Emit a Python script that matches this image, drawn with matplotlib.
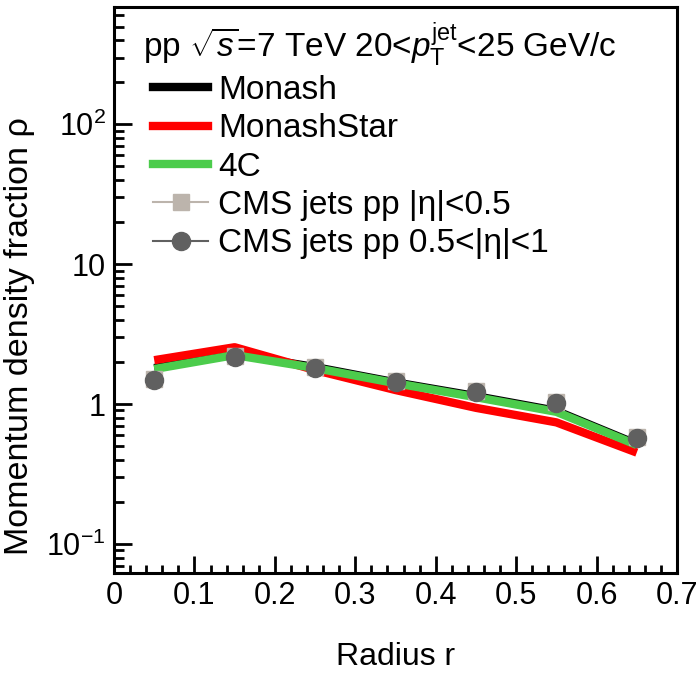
import matplotlib
matplotlib.use("Agg")
import matplotlib.pyplot as plt
from matplotlib.lines import Line2D
from matplotlib.ticker import FixedLocator, FixedFormatter, MultipleLocator, LogLocator, NullFormatter

plt.rcParams['font.family'] = ['Liberation Sans', 'DejaVu Sans']
plt.rcParams['mathtext.fontset'] = 'custom'
plt.rcParams['mathtext.rm'] = 'Liberation Sans'
plt.rcParams['mathtext.it'] = 'Liberation Sans:italic'

radius = [0.05, 0.15, 0.25, 0.35, 0.45, 0.55, 0.65]
monash = [1.81, 2.27, 1.84, 1.43, 1.14, 0.895, 0.518]
monash_star = [2.06, 2.55, 1.75, 1.26, 0.94, 0.74, 0.45]
c4 = [1.78, 2.24, 1.81, 1.41, 1.12, 0.88, 0.51]
cms_central = [1.50, 2.20, 1.83, 1.46, 1.24, 1.03, 0.58]
cms_central_err = [0.04, 0.05, 0.04, 0.03, 0.03, 0.03, 0.03]
cms_fwd = [1.48, 2.17, 1.81, 1.44, 1.22, 1.02, 0.57]
cms_fwd_err = [0.04, 0.05, 0.04, 0.03, 0.03, 0.03, 0.06]

W, H = 697, 675
fig = plt.figure(figsize=(W / 100, H / 100), dpi=100)
left, right, top, bottom = 114, 677, 7, 573
ax = fig.add_axes([left / W, 1 - bottom / H, (right - left) / W, (bottom - top) / H])

band = 6.0
ax.plot(radius, monash, color='black', lw=band, solid_capstyle='butt', zorder=2)
ax.plot(radius, monash_star, color='#ff0000', lw=band, solid_capstyle='butt', zorder=3)
ax.plot(radius, c4, color='#4ccc4c', lw=band, solid_capstyle='butt', zorder=4)
ax.errorbar(radius, cms_central, yerr=cms_central_err, color='#bcb4ac', marker='s', ms=12,
            lw=1.5, ls='none', capsize=0, zorder=5)
ax.errorbar(radius, cms_fwd, yerr=cms_fwd_err, color='#606060', marker='o', ms=13,
            lw=1.5, ls='none', capsize=4, capthick=1.5, zorder=6)

ax.set_yscale('log')
ax.set_xlim(0, 0.7)
ax.set_ylim(0.062, 690)

ax.xaxis.set_minor_locator(MultipleLocator(0.02))
ax.set_xticks([0, 0.1, 0.2, 0.3, 0.4, 0.5, 0.6, 0.7])
ax.set_xticklabels(['0', '0.1', '0.2', '0.3', '0.4', '0.5', '0.6', '0.7'])
ax.yaxis.set_major_locator(FixedLocator([0.1, 1, 10, 100]))
ax.yaxis.set_major_formatter(FixedFormatter([r'$10^{-1}$', '1', '10', r'$10^{2}$']))
ax.yaxis.set_minor_locator(LogLocator(base=10, subs=range(2, 10)))
ax.yaxis.set_minor_formatter(NullFormatter())

ax.tick_params(axis='both', which='both', direction='in', top=False, right=False,
               labelsize=22, width=2, colors='black')
ax.tick_params(axis='x', which='major', length=12, pad=6)
ax.tick_params(axis='x', which='minor', length=6)
ax.tick_params(axis='y', which='major', length=13, pad=6)
ax.tick_params(axis='y', which='minor', length=7)
for s in ax.spines.values():
    s.set_linewidth(2.2)

ax.set_xlabel('Radius r', fontsize=23, labelpad=22)
ax.set_ylabel('Momentum density fraction ρ', fontsize=24.5)
ax.yaxis.set_label_coords((35 - left) / (right - left), 1 - (336 - top) / (bottom - top))

ax.text((143 - left) / (right - left), 1 - (57 - top) / (bottom - top),
        r'pp $\sqrt{s}$=7 TeV 20<$p_{\mathrm{T}}^{\mathrm{jet}}$<25 GeV/c',
        transform=ax.transAxes, fontsize=24, va='baseline', ha='left')

handles = [
    Line2D([], [], color='black', lw=6),
    Line2D([], [], color='#ff0000', lw=6),
    Line2D([], [], color='#4ccc4c', lw=6),
    Line2D([], [], color='#bcb4ac', lw=1.5, marker='s', ms=12),
    Line2D([], [], color='#606060', lw=1.5, marker='o', ms=13),
]
labels = ['Monash', 'MonashStar', '4C', 'CMS jets pp |η|<0.5', 'CMS jets pp 0.5<|η|<1']
ax.legend(handles, labels, loc='upper left',
          bbox_to_anchor=((153 - left) / (right - left), 1 - (75 - top) / (bottom - top)),
          frameon=False, fontsize=24, handlelength=1.65, handletextpad=0.3,
          labelspacing=0.22, borderpad=0, borderaxespad=0)

fig.savefig('out.png', dpi=100)
